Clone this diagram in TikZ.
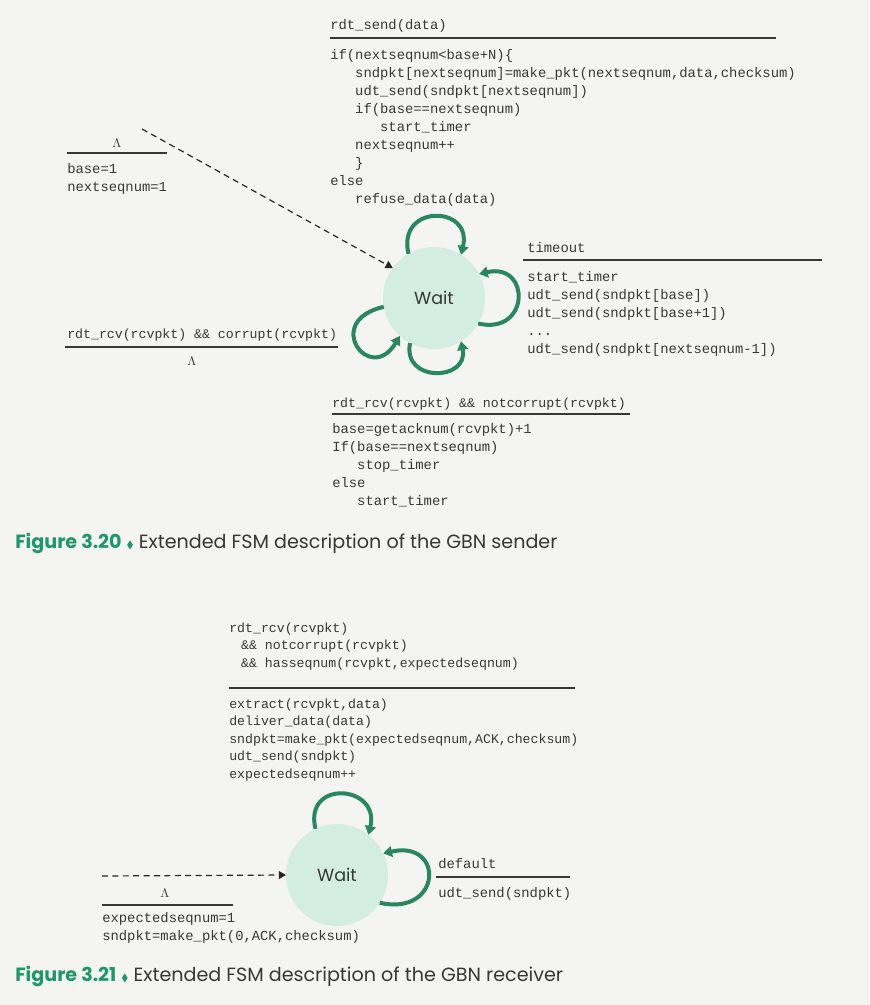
\documentclass[tikz,border=0pt]{standalone}
\usepackage{fontspec}
\setmonofont{Liberation Mono}
\newfontfamily\capfont{Poppins}
\usepackage{amssymb}
\usetikzlibrary{arrows.meta,positioning,calc}

\definecolor{paper}{RGB}{244,244,243}
\definecolor{ink}{RGB}{55,55,55}
\definecolor{loopgreen}{RGB}{40,135,95}
\definecolor{waitfill}{RGB}{212,237,226}
\definecolor{figgreen}{RGB}{30,150,110}

% indents of the code lines
\newcommand{\indA}{\hspace*{1.8em}}
\newcommand{\indB}{\hspace*{3.6em}}
\newcommand{\indC}{\hspace*{0.9em}}

\tikzset{
  code/.style={font=\ttfamily\fontsize{9.85}{12.8}\selectfont, text=ink,
    align=left, anchor=base west, inner sep=0pt},
  codesm/.style={code, font=\ttfamily\fontsize{9.4}{12.4}\selectfont},
  lam/.style={anchor=base, inner sep=0pt, text=ink, font=\fontsize{9.5}{11}\selectfont},
  guard/.style={draw=ink, line width=0.04cm},
  state/.style={circle, fill=waitfill, minimum size=2.55cm, inner sep=0pt,
    outer sep=0pt, font=\capfont\fontsize{12.5}{14}\selectfont, text=ink},
  selfloop/.style={draw=loopgreen, line width=0.1cm,
    -{Triangle[width=0.27cm,length=0.22cm]}},
  initarrow/.style={draw=black!85, line width=0.03cm, dash pattern=on 0.15cm off 0.11cm,
    -{Triangle[width=0.2cm,length=0.18cm]}},
  caption/.style={anchor=base west, inner sep=0pt, text=ink,
    font=\capfont\fontsize{13.6}{16}\selectfont}
}

\begin{document}
\begin{tikzpicture}[x=0.025cm,y=-0.025cm]

% Page
\fill[paper] (0,0) rectangle (869,1005);
\useasboundingbox (0,0) rectangle (869,1005);

% (code blocks are placed at the baseline of their last line)

%%%% Sender, Figure 3.20

% The state
\node[state] (wait) at (434,298) {Wait};

% rdt_send transition (top)
\node[code] (sendev) at (330,30) {rdt\_send(data)};
\coordinate (sendl) at (330,38);
\coordinate (sendr) at (776,38);
\draw[guard] (sendl) -- (sendr);
\node[code] (sendact) at (330,203.5) {if(nextseqnum<base+N)\{\\
\indA sndpkt[nextseqnum]=make\_pkt(nextseqnum,data,checksum)\\
\indA udt\_send(sndpkt[nextseqnum])\\
\indA if(base==nextseqnum)\\
\indB start\_timer\\
\indA nextseqnum++\\
\indA \}\\
else\\
\indA refuse\_data(data)};
\draw[selfloop] (wait.120) .. controls +(-12,-50) and +(12,-50) .. (wait.58);

% Initial transition
\node[lam] (initev) at (117,147) {$\Lambda$};
\coordinate (initl) at (67,153);
\coordinate (initr) at (167,153);
\draw[guard] (initl) -- (initr);
\node[code] (initact) at (67,191) {base=1\\nextseqnum=1};
\coordinate (init) at (142,129);
\draw[initarrow] (init) -- (wait.144);

% timeout transition (right)
\node[code] (toev) at (527,252) {timeout};
\coordinate (tol) at (523,260);
\coordinate (tor) at (822,260);
\draw[guard] (tol) -- (tor);
\node[code] (toact) at (527,353) {start\_timer\\
udt\_send(sndpkt[base])\\
udt\_send(sndpkt[base+1])\\
...\\
udt\_send(sndpkt[nextseqnum-1])};
\draw[selfloop] (wait.-30) .. controls +(52,12) and +(52,-12) .. (wait.28);

% corrupt ACK (left)
\node[codesm] (correv) at (67,338) {rdt\_rcv(rcvpkt) \&\& corrupt(rcvpkt)};
\coordinate (corrl) at (65,347);
\coordinate (corrr) at (338,347);
\draw[guard] (corrl) -- (corrr);
\node[lam] (corract) at (192,365) {$\Lambda$};
\draw[selfloop] (wait.190) .. controls +(-62,14) and +(-30,50) .. (wait.228);

% good ACK (bottom)
\node[codesm] (ackev) at (332,407) {rdt\_rcv(rcvpkt) \&\& notcorrupt(rcvpkt)};
\coordinate (ackl) at (332,414);
\coordinate (ackr) at (630,414);
\draw[guard] (ackl) -- (ackr);
\node[code] (ackact) at (332,505) {base=getacknum(rcvpkt)+1\\
If(base==nextseqnum)\\
\indA stop\_timer\\
else\\
\indA start\_timer};
\draw[selfloop] (wait.-118) .. controls +(-8,40) and +(8,40) .. (wait.-58);

% Caption
\node[caption] (cap1) at (15,548) {{\bfseries\color{figgreen}Figure 3.20}
  {\color{figgreen}\scalebox{0.55}{$\blacklozenge$}} Extended FSM description of the GBN sender};

%%%% Receiver, Figure 3.21

% The state
\node[state] (wait2) at (337,875) {Wait};

% in-order packet (top)
\node[codesm] (rcvev) at (229,667) {rdt\_rcv(rcvpkt)\\
\indC\&\& notcorrupt(rcvpkt)\\
\indC\&\& hasseqnum(rcvpkt,expectedseqnum)};
\coordinate (rcvl) at (229,688);
\coordinate (rcvr) at (575,688);
\draw[guard] (rcvl) -- (rcvr);
\node[codesm] (rcvact) at (229,778) {extract(rcvpkt,data)\\
deliver\_data(data)\\
sndpkt=make\_pkt(expectedseqnum,ACK,checksum)\\
udt\_send(sndpkt)\\
expectedseqnum++};
\draw[selfloop] (wait2.115) .. controls +(-12,-50) and +(12,-50) .. (wait2.52);

% Initial transition
\coordinate (init2) at (102,876);
\draw[initarrow] (init2) -- (wait2.west);
\node[lam] (init2ev) at (165,897) {$\Lambda$};
\coordinate (init2l) at (102,905);
\coordinate (init2r) at (233,905);
\draw[guard] (init2l) -- (init2r);
\node[code] (init2act) at (102,940) {expectedseqnum=1\\sndpkt=make\_pkt(0,ACK,checksum)};

% default transition (right)
\node[code] (defev) at (438,868) {default};
\coordinate (defl) at (436,877);
\coordinate (defr) at (570,877);
\draw[guard] (defl) -- (defr);
\node[code] (defact) at (438,897) {udt\_send(sndpkt)};
\draw[selfloop] (wait2.-33) .. controls +(62,14) and +(62,-14) .. (wait2.25);

% Caption
\node[caption] (cap2) at (15,981) {{\bfseries\color{figgreen}Figure 3.21}
  {\color{figgreen}\scalebox{0.55}{$\blacklozenge$}} Extended FSM description of the GBN receiver};

\end{tikzpicture}
\end{document}
